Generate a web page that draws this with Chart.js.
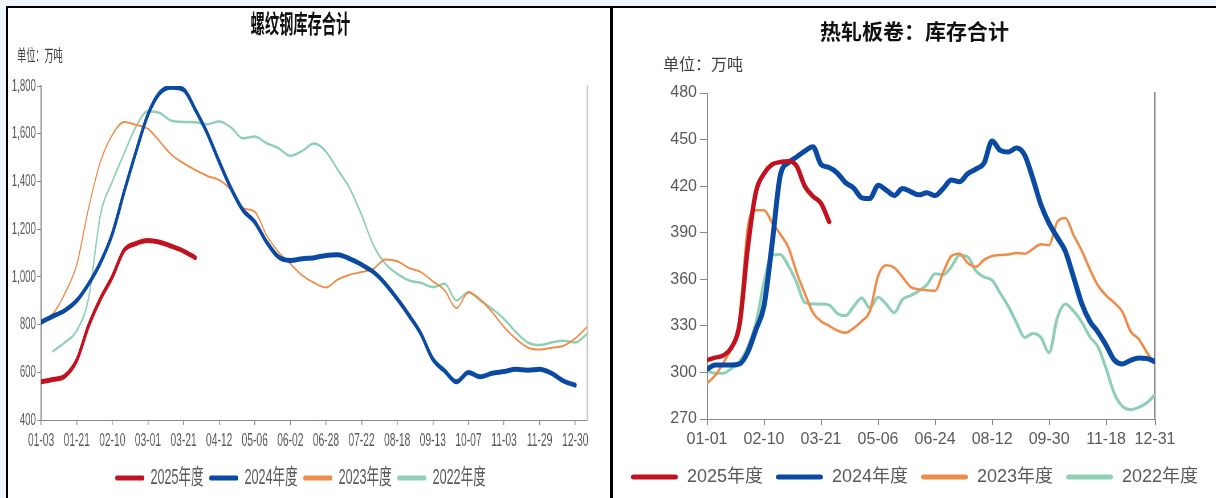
<!DOCTYPE html>
<html>
<head>
<meta charset="utf-8">
<script src="https://cdn.jsdelivr.net/npm/chart.js@4.4.1/dist/chart.umd.min.js"></script>
<style>
  html, body { margin: 0; padding: 0; }
  body { width: 1216px; height: 498px; overflow: hidden; background: #f0f6fe; position: relative; }
  .panel { position: absolute; background: #fff; overflow: hidden; }
  #panelL { left: 6px; top: 6px; width: 602px; height: 500px; border-left: 2px solid #000; border-top: 2px solid #000; border-right: 3px solid #000; }
  #panelR { left: 613px; top: 6px; width: 603px; height: 500px; border-top: 2px solid #000; }
  /* the left picture is squeezed sideways in the original, so draw wide and squash it */
  #rebar { position: absolute; left: 0; top: 0; transform: scaleX(0.57); transform-origin: 0 0; }
  #hrc { position: absolute; left: 0; top: 0; }
</style>
</head>
<body>
<div class="panel" id="panelL"><canvas id="rebar" width="1056" height="491"></canvas></div>
<div class="panel" id="panelR"><canvas id="hrc" width="603" height="488"></canvas></div>
<script>
// ---- rebar (left) ----
const tickLabelsL = ['01-03','01-21','02-10','03-01','03-21','04-12','05-06','06-02','06-28','07-22','08-18','09-13','10-07','11-03','11-29','12-30'];
const rebar2025 = [560, 570, 584, 650, 795, 908, 1000, 1112, 1140, 1152, 1145, 1128, 1108, 1080];
const rebar2024 = [810, 835, 859, 900, 970, 1060, 1180, 1357, 1525, 1680, 1771, 1795, 1785, 1700, 1602, 1483, 1371, 1280, 1230, 1146,
  1083, 1069, 1076, 1080, 1090, 1093, 1076, 1051, 1020, 971, 908, 838, 761, 655, 606, 560, 599, 581, 596, 603,
  613, 609, 613, 596, 564, 546];
const rebar2023 = [800, 845, 930, 1050, 1287, 1483, 1595, 1649, 1637, 1621, 1567, 1511, 1476, 1448, 1423, 1406, 1364, 1289, 1273, 1174,
  1104, 1055, 1006, 975, 955, 989, 1009, 1020, 1034, 1073, 1065, 1037, 1020, 981, 943, 869, 936, 905, 852, 789,
  740, 704, 695, 703, 711, 742, 790];
const rebar2022 = [null, 688, 725, 775, 910, 1260, 1399, 1518, 1630, 1694, 1687, 1654, 1649, 1648, 1640, 1651, 1626, 1581, 1588, 1560,
  1539, 1508, 1528, 1559, 1525, 1448, 1371, 1259, 1132, 1055, 1013, 985, 975, 957, 971, 901, 936, 901, 866, 824,
  768, 725, 714, 725, 732, 725, 761];

// ---- hot rolled coil (right) ----
const tickLabelsR = ['01-01','02-10','03-21','05-06','06-24','08-12','09-30','11-18','12-31'];
const tickPosR = [0, 7, 14, 21, 28, 35, 42, 49, 55];
const hrc2025 = [308, 309.5, 311, 316, 331, 380, 416, 428, 434, 435.5, 436, 433, 420, 413.5, 409, 397];
const hrc2024 = [302, 304.8, 304.8, 304.8, 305.5, 313, 327.5, 343, 383, 427, 435, 438.8, 442.5, 445.4, 434, 432, 428.4, 422.3, 418.8, 412.5,
  412, 420.5, 417.5, 414, 418.5, 416.5, 414.4, 415.7, 414, 418.5, 423.9, 422.8, 428, 431, 434.7, 449, 443, 442, 444.5, 440,
  425, 408, 396, 387, 378, 361.5, 344.5, 333, 326, 317.5, 308, 305.5, 307.8, 309.3, 309, 307];
const hrc2023 = [293, 298, 306, 316, 333, 393, 404.5, 404.5, 396.5, 389, 380.5, 364.5, 351, 338.5, 333, 330, 327, 325.5, 328.5, 333,
  339.5, 362, 369, 367.5, 361.5, 355, 353.5, 353, 352.5, 364.5, 375, 376.5, 370.5, 368, 372.5, 375, 375.7, 375.9, 377, 376.5,
  379.5, 382.5, 382, 397, 399.5, 388.5, 378.5, 366.5, 356, 349.5, 344.8, 339, 326.5, 321.5, 313, 305];
const hrc2022 = [301, 299.5, 299.5, 302.5, 307, 316, 331.5, 358, 375.6, 376, 368.5, 358, 345, 344, 344, 343.4, 338, 336.5, 342.5, 348,
  341.5, 348.4, 344, 338.5, 347, 349.5, 352.5, 356.5, 363.5, 363, 368, 375.5, 374.5, 365.5, 361.5, 359.5, 351, 342.5, 332, 322.5,
  325, 322.5, 312.7, 335, 344, 339.5, 332.5, 323, 316.5, 302.5, 286.5, 278.2, 276, 277.5, 280.5, 285.5];

const RED = '#c0121f', BLUE = '#0b4aa2', ORANGE = '#f08c4a', GREEN = '#8fcfb6';
const GREY = '#595959';
const CJK = "'Noto Sans CJK SC', sans-serif";

Chart.defaults.font.family = "'Liberation Sans', 'Noto Sans CJK SC', sans-serif";

function idx(n) { return Array.from({ length: n }, (_, i) => i); }

function line(label, data, color, width) {
  return {
    label, data, xAxisID: 'x', yAxisID: 'y',
    borderColor: color, backgroundColor: color, borderWidth: width,
    pointRadius: 0, cubicInterpolationMode: 'monotone',
    borderCapStyle: 'round', borderJoinStyle: 'round', fill: false
  };
}

// legend swatch drawn as a short filled bar in the line colour
function legendLabels(chart) {
  return Chart.defaults.plugins.legend.labels.generateLabels(chart)
    .map(l => Object.assign(l, { fillStyle: l.strokeStyle, lineWidth: 0, borderRadius: 2.5 }));
}

// the small "unit" note under the title, placed by hand
const unitNote = {
  id: 'unitNote',
  afterDraw(chart, args, o) {
    const ctx = chart.ctx;
    ctx.save();
    ctx.font = o.size + 'px ' + CJK;
    ctx.fillStyle = o.color;
    ctx.textBaseline = 'middle';
    ctx.fillText(o.text, o.x, o.y);
    ctx.restore();
  }
};

// empty right-hand axis: only gives the plot its right margin and edge line
function edgeAxis(min, max, width, color, lw) {
  return {
    position: 'right', min, max,
    afterFit: s => { s.width = width; },
    grid: { display: false },
    border: { color: color, width: lw },
    ticks: { display: false }
  };
}

new Chart(document.getElementById('rebar'), {
  type: 'line',
  data: {
    labels: idx(47),
    datasets: [
      line('2025年度', rebar2025, RED, 5),
      line('2024年度', rebar2024, BLUE, 5),
      line('2023年度', rebar2023, ORANGE, 2),
      line('2022年度', rebar2022, GREEN, 2.5)
    ]
  },
  options: {
    responsive: false,
    animation: false,
    layout: { padding: { left: 0, right: 30, top: 0, bottom: 0 } },
    plugins: {
      title: { display: true, text: '螺纹钢库存合计', color: '#111', font: { size: 25, weight: 'bold', family: CJK }, padding: { top: 0, bottom: 48 } },
      legend: { position: 'bottom', labels: { boxWidth: 51, boxHeight: 5, padding: 10, color: GREY, font: { size: 22 }, generateLabels: legendLabels } },
      tooltip: { enabled: false },
      unitNote: { text: '单位：万吨', x: 16, y: 47, size: 16, color: '#404040' }
    },
    scales: {
      x: {
        type: 'linear', min: 0, max: 46,
        afterFit: s => { s.height = 37; },
        grid: { drawOnChartArea: false, tickLength: 5, tickColor: '#888', lineWidth: 1.5 },
        border: { color: '#888', width: 1 },
        ticks: { stepSize: 3, includeBounds: false, autoSkip: false, maxRotation: 0, padding: 5.7, color: GREY, font: { size: 18 },
          callback: v => tickLabelsL[v / 3] }
      },
      y: {
        min: 400, max: 1800,
        afterFit: s => { s.width = 58; },
        grid: { drawOnChartArea: false, tickLength: 7, tickColor: '#888' },
        border: { color: '#888', width: 2 },
        ticks: { stepSize: 200, padding: 2, color: GREY, font: { size: 17 }, callback: v => v.toLocaleString('en-US') }
      },
      y2: edgeAxis(400, 1800, 10, '#c8c8c8', 3)
    }
  },
  plugins: [unitNote]
});

new Chart(document.getElementById('hrc'), {
  type: 'line',
  data: {
    labels: idx(56),
    datasets: [
      line('2025年度', hrc2025, RED, 4.5),
      line('2024年度', hrc2024, BLUE, 5),
      line('2023年度', hrc2023, ORANGE, 2.5),
      line('2022年度', hrc2022, GREEN, 3)
    ]
  },
  options: {
    responsive: false,
    animation: false,
    layout: { padding: 0 },
    plugins: {
      title: { display: true, text: '热轧板卷：库存合计', color: '#111', font: { size: 21, weight: 'bold', family: CJK }, padding: { top: 10.5, bottom: 49.3 } },
      legend: { position: 'bottom', labels: { boxWidth: 47, boxHeight: 5, padding: 13, color: GREY, font: { size: 18 }, generateLabels: legendLabels } },
      tooltip: { enabled: false },
      unitNote: { text: '单位：万吨', x: 50, y: 55.5, size: 16, color: '#404040' }
    },
    scales: {
      x: {
        type: 'linear', min: 0, max: 55,
        afterFit: s => { s.height = 36; },
        afterBuildTicks: s => { s.ticks = tickPosR.map(v => ({ value: v })); },
        grid: { drawOnChartArea: false, tickLength: 6, tickColor: '#888' },
        border: { color: '#888', width: 1 },
        ticks: { autoSkip: false, maxRotation: 0, padding: 5.4, color: GREY, font: { size: 16 },
          callback: (v, i) => tickLabelsR[i] }
      },
      y: {
        min: 270, max: 480,
        afterFit: s => { s.width = 94; },
        grid: { drawOnChartArea: false, tickLength: 7, tickColor: '#888' },
        border: { color: '#888', width: 1 },
        ticks: { stepSize: 30, padding: 3, color: GREY, font: { size: 16 } }
      },
      y2: edgeAxis(270, 480, 61, '#888', 1.5)
    }
  },
  plugins: [unitNote]
});
</script>
</body>
</html>
